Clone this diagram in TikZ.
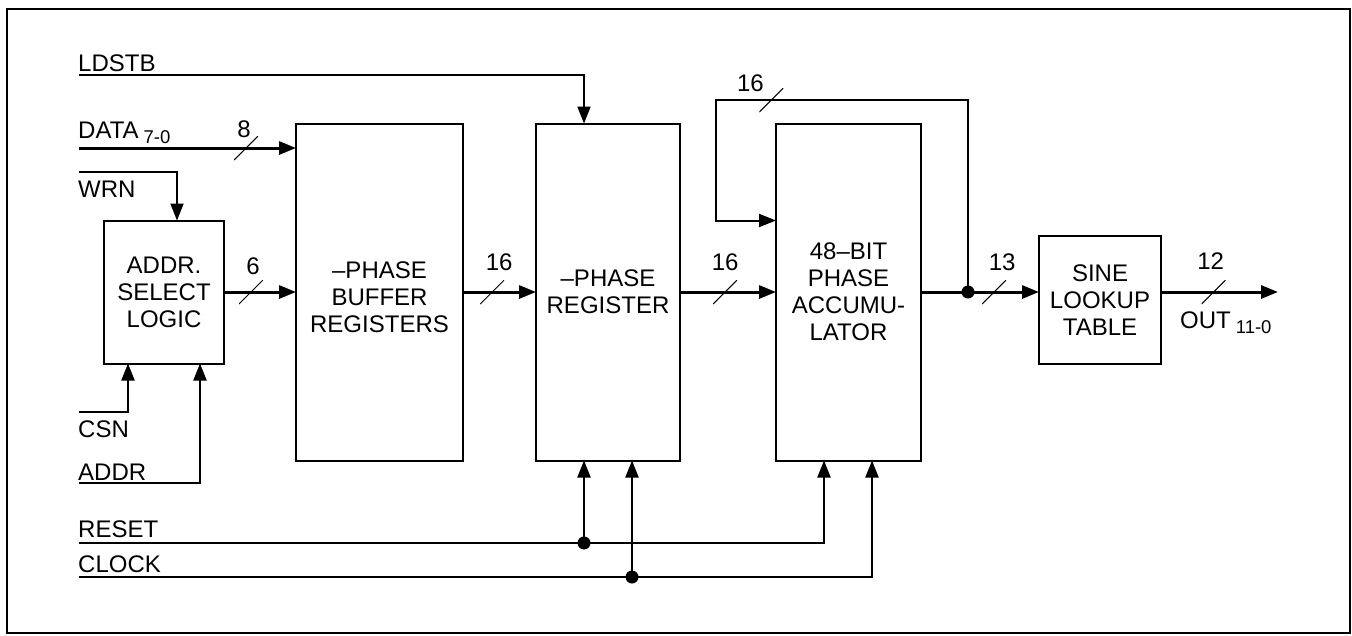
\documentclass[tikz,border=0pt]{standalone}
\usepackage{fontspec}
\setmainfont{Liberation Sans}
\usetikzlibrary{arrows.meta,positioning}
\newcommand\idx[1]{\hspace{5pt}\raisebox{-5.5pt}{\fontsize{18.5}{18.5}\selectfont #1}}

\begin{document}
\begin{tikzpicture}[x=1pt,y=-1pt,font=\fontsize{24}{27}\selectfont,
  block/.style={draw,line width=2pt,outer sep=0pt,inner sep=0pt,align=center,minimum width=#1},
  bus/.style={line width=3pt,-{Triangle[length=17pt,width=13pt]}},
  ctrl/.style={line width=2pt,-{Triangle[length=17pt,width=13pt]}},
  slash/.style={minimum size=24pt,inner sep=0pt,path picture={\draw[-,line width=1pt] (path picture bounding box.south west) -- (path picture bounding box.north east);}},
  num/.style={inner sep=0pt},
  sig/.style={inner sep=0pt,anchor=base west},
  dot/.style={circle,fill,inner sep=0pt,minimum size=13pt}]
  \useasboundingbox (0,0) rectangle (1352,635);
  \draw[line width=2pt] (7,9) rectangle (1350,633);
  % blocks
  \node[block=120pt,minimum height=143pt] (addr) at (164,292) {ADDR.\\SELECT\\LOGIC};
  \node[block=167pt,minimum height=337pt,right=72pt of addr] (buf) {\mbox{}\\–PHASE\\BUFFER\\REGISTERS};
  \node[block=144pt,minimum height=337pt,right=73pt of buf] (phreg) {–PHASE\\REGISTER};
  \node[block=145pt,minimum height=337pt,right=96pt of phreg] (acc) {48–BIT\\PHASE\\ACCUMU-\\LATOR};
  \node[block=122pt,minimum height=128pt,right=118pt of acc,yshift=-8pt] (sine) {SINE\\LOOKUP\\TABLE};
  % signal names
  \node[sig] (ldstb) at (78,71) {LDSTB};
  \node[sig] (data) at (78,138) {DATA\idx{7-0}};
  \node[sig] (wrn) at (78,197) {WRN};
  \node[sig] (csn) at (78,437) {CSN};
  \node[sig] (addrl) at (78,480) {ADDR};
  \node[sig] (reset) at (78,537) {RESET};
  \node[sig] (clock) at (78,572) {CLOCK};
  \node[sig] (outl) at (1180,328) {OUT\idx{11-0}};
  \coordinate (ldstbIn) at (79,75);
  \coordinate (dataIn) at (79,148);
  \coordinate (wrnIn) at (79,172);
  \coordinate (csnIn) at (79,412);
  \coordinate (addrIn) at (79,483);
  \coordinate (rstIn) at (79,543);
  \coordinate (clkIn) at (79,577);
  \coordinate (out) at (1278,292);
  \coordinate (ldIn) at ([xshift=-24pt]phreg.north);
  \coordinate (wrIn) at ([xshift=13pt]addr.north);
  \coordinate (csIn) at ([xshift=-36pt]addr.south);
  \coordinate (adIn) at ([xshift=36pt]addr.south);
  \coordinate (phR) at ([xshift=-24pt]phreg.south);
  \coordinate (phC) at ([xshift=24pt]phreg.south);
  \coordinate (accR) at ([xshift=-24.5pt]acc.south);
  \coordinate (accC) at ([xshift=23.5pt]acc.south);
  \coordinate (fbTop) at (716,100);
  \coordinate (fbIn) at ([yshift=-97pt]acc.north west);
  % buses
  \draw[bus] (dataIn) -- node[slash,pos=.77] (sl8) {} (dataIn -| buf.west);
  \draw[bus] (addr) -- node[slash,pos=.375] (sl6) {} (buf);
  \draw[bus] (buf) -- node[slash,pos=.4] (slb) {} (phreg);
  \draw[bus] (phreg) -- node[slash,pos=.47] (slp) {} (acc);
  \draw[bus] (acc.east) -- node[slash,pos=.62] (sl13) {} (acc.east -| sine.west);
  \draw[bus] (acc.east -| sine.east) -- node[slash,pos=.45] (sl12) {} (out);
  \node[dot] (tap) at ([xshift=47pt]acc.east) {};
  \draw[ctrl] (tap.center) |- node[slash,pos=.89] (slfb) {} (fbTop) |- (fbIn);
  \node[num] (n8) at ([shift={(-2,-19)}]sl8.center) {8};
  \node[num] (n6) at ([shift={(2,-26)}]sl6.center) {6};
  \node[num] (nb) at ([shift={(7,-30)}]slb.center) {16};
  \node[num] (np) at ([shift={(0,-30)}]slp.center) {16};
  \node[num] (nfb) at ([shift={(-21,-17)}]slfb.center) {16};
  \node[num] (n13) at ([shift={(8,-30)}]sl13.center) {13};
  \node[num] (n12) at ([shift={(-3,-31)}]sl12.center) {12};
  % control lines
  \draw[ctrl] (ldstbIn) -| (ldIn);
  \draw[ctrl] (wrnIn) -| (wrIn);
  \draw[ctrl] (csnIn) -| (csIn);
  \draw[ctrl] (addrIn) -| (adIn);
  \draw[ctrl] (rstIn) -| (accR);
  \node[dot] (rtap) at (phR |- rstIn) {};
  \draw[ctrl] (rtap.center) -- (phR);
  \draw[ctrl] (clkIn) -| (accC);
  \node[dot] (ctap) at (phC |- clkIn) {};
  \draw[ctrl] (ctap.center) -- (phC);
\end{tikzpicture}
\end{document}
